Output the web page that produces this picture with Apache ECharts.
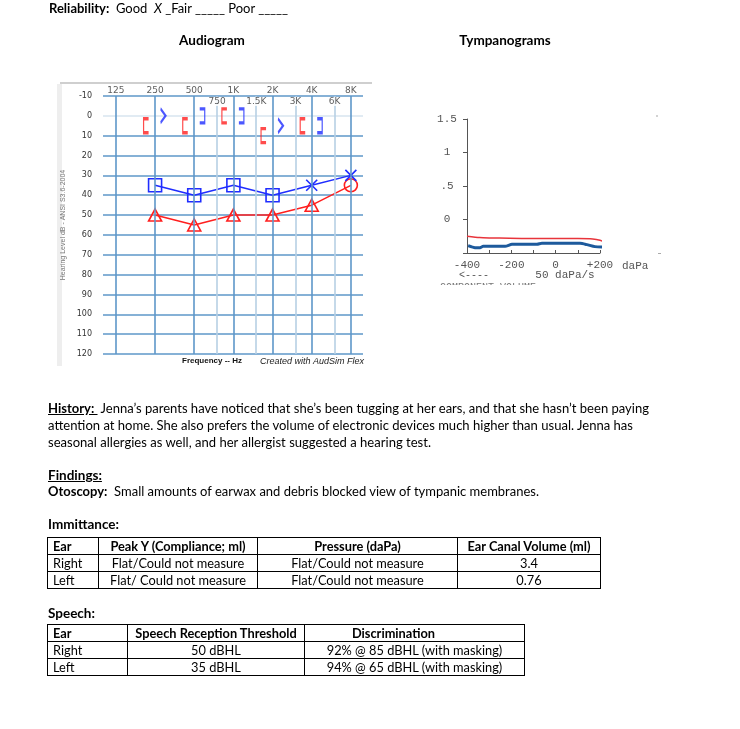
<!DOCTYPE html>
<html>
<head>
<meta charset="utf-8">
<script src="https://cdn.jsdelivr.net/npm/echarts@6/dist/echarts.min.js"></script>
<style>
  html, body { margin:0; padding:0; background:#fff; }
  #c { position:absolute; left:0; top:0; width:740px; height:729px; }
  #doc { position:absolute; left:0; top:0; width:740px; height:729px; z-index:2; pointer-events:none;
         font-family: Lato, "Open Sans", sans-serif; font-size:13.5px; color:#000; }
  .ln { position:absolute; white-space:pre; line-height:17px; transform-origin:0 50%; }
  .fit { display:inline-block; }
  table { position:absolute; border-collapse:collapse; table-layout:fixed; font-size:12.8px; }
  td { border:1px solid #000; padding:0 4px; height:16px; line-height:16px; text-align:center; white-space:nowrap; overflow:hidden; }
  td.l { text-align:left; padding-left:5px; }
  tr.h td { font-weight:bold; }
</style>
</head>
<body>
<div id="c"></div>
<div id="doc">
  <div class="ln fit" data-w="239" style="left:49px;top:0px"><b>Reliability:</b>  Good  <i>X</i> _Fair _____ Poor _____</div>
  <div class="ln" style="left:162px;top:32px;width:100px;text-align:center"><b>Audiogram</b></div>
  <div class="ln" style="left:445px;top:32px;width:120px;text-align:center"><b>Tympanograms</b></div>

  <div class="ln fit" data-w="601" style="left:48px;top:400px"><b><u>History: </u></b> Jenna’s parents have noticed that she’s been tugging at her ears, and that she hasn’t been paying</div>
  <div class="ln fit" data-w="585" style="left:48px;top:417px">attention at home. She also prefers the volume of electronic devices much higher than usual. Jenna has</div>
  <div class="ln fit" data-w="383" style="left:48px;top:434px">seasonal allergies as well, and her allergist suggested a hearing test.</div>

  <div class="ln" style="left:48px;top:467px"><b><u>Findings:</u></b></div>
  <div class="ln fit" data-w="491" style="left:48px;top:483px"><b>Otoscopy:</b>  Small amounts of earwax and debris blocked view of tympanic membranes.</div>

  <div class="ln" style="left:48px;top:516px"><b>Immittance:</b></div>
  <table id="t1" style="left:47px;top:537px;width:553px">
    <colgroup><col style="width:51px"><col style="width:159px"><col style="width:200px"><col style="width:143px"></colgroup>
  </table>

  <div class="ln" style="left:48px;top:605px"><b>Speech:</b></div>
  <table id="t2" style="left:47px;top:624px;width:477px">
    <colgroup><col style="width:80px"><col style="width:177px"><col style="width:220px"></colgroup>
  </table>
</div>

<script>
// ---------- Audiogram data ----------
const octaveFreqs = [125, 250, 500, 1000, 2000, 4000, 8000];
const octaveLabels = ['125', '250', '500', '1K', '2K', '4K', '8K'];
const midFreqs = [750, 1500, 3000, 6000];
const midLabels = ['750', '1.5K', '3K', '6K'];

const rightFreq = [250, 500, 1000, 2000, 4000, 8000];
const rightDb   = [50, 55, 50, 50, 45, 35];
const rightSym  = ['triangle', 'triangle', 'triangle', 'triangle', 'triangle', 'circle'];

const leftFreq = [250, 500, 1000, 2000, 4000, 8000];
const leftDb   = [35, 40, 35, 40, 35, 30];
const leftSym  = ['rect', 'rect', 'rect', 'rect', 'x', 'x'];

const rightBoneMaskedFreq = [250, 500, 1000, 2000, 4000];
const rightBoneMaskedDb   = [5, 5, 0, 10, 5];
const leftBoneFreq = [250, 2000];
const leftBoneDb   = [0, 5];
const leftBoneMaskedFreq = [500, 1000, 4000];
const leftBoneMaskedDb   = [0, 0, 5];

// ---------- Tympanogram data ----------
const tympRightPressure = [-400, -343, -300, -208, -100, 0, 100, 167, 200, 230, 266];
const tympRightValue    = [-0.25, -0.27, -0.275, -0.28, -0.285, -0.285, -0.285, -0.29, -0.31, -0.35, -0.38];
const tympLeftPressure  = [-395, -364, -341, -327, -228, -197, -84, -62, 110, 141, 177, 210, 267];
const tympLeftValue     = [-0.39, -0.42, -0.42, -0.40, -0.40, -0.37, -0.37, -0.355, -0.355, -0.375, -0.405, -0.41, -0.41];

// ---------- tables ----------
const immHeader = ['Ear', 'Peak Y (Compliance; ml)', 'Pressure (daPa)', 'Ear Canal Volume (ml)'];
const immRows = [
  ['Right', 'Flat/Could not measure', 'Flat/Could not measure', '3.4'],
  ['Left', 'Flat/ Could not measure', 'Flat/Could not measure', '0.76']
];
const spHeader = ['Ear', 'Speech Reception Threshold', 'Discrimination'];
const spRows = [
  ['Right', '50 dBHL', '92% @ 85 dBHL (with masking)'],
  ['Left', '35 dBHL', '94% @ 65 dBHL (with masking)']
];

function fillTable(id, header, rows, hdrPad) {
  const t = document.getElementById(id);
  const mk = (cells, cls) => {
    const tr = document.createElement('tr');
    if (cls) tr.className = cls;
    cells.forEach((c, i) => {
      const td = document.createElement('td');
      td.textContent = c;
      if (i === 0) td.className = 'l';
      if (cls && hdrPad && hdrPad[i]) td.style.paddingRight = hdrPad[i] + 'px';
      tr.appendChild(td);
    });
    t.appendChild(tr);
  };
  mk(header, 'h');
  rows.forEach(r => mk(r));
}
fillTable('t1', immHeader, immRows);
fillTable('t2', spHeader, spRows, [0, 0, 46]);

// ---------- chart ----------
const oct = f => Math.log2(f / 125);
const BLUE = '#1f2dff', RED = '#ff1f1f';
const gridBlue = '#5e97c9', gridLight = '#b7d0e4';

const ySplitColors = [];
for (let v = -10; v <= 120; v += 10) ySplitColors.push(v === 0 ? '#d7e4ef' : gridBlue);

const hollow = (c, w) => ({ color: 'rgba(0,0,0,0)', borderColor: c, borderWidth: w || 1.6 });
const xPath = 'path://M0,0L10,10M10,0L0,10';
const symMap = { triangle: 'triangle', circle: 'circle', rect: 'rect', x: xPath };
const sizeMap = { triangle: [13, 12], circle: 13, rect: 13, x: 11 };

const chart = echarts.init(document.getElementById('c'), null, { renderer: 'canvas' });
const monoFont = '"Liberation Mono", "DejaVu Sans Mono", monospace';

chart.setOption({
  backgroundColor: '#fff',
  animation: false,
  grid: [
    { left: 103, top: 96, width: 260, height: 258 },
    { left: 467, top: 119, width: 133, height: 134 }
  ],
  xAxis: [
    { gridIndex: 0, type: 'value', min: -0.33, max: 6.31, axisLine: { show: false }, axisTick: { show: false },
      axisLabel: { show: false }, splitLine: { show: false } },
    { gridIndex: 1, type: 'value', min: -400, max: 200, interval: 100,
      axisLine: { onZero: false, lineStyle: { color: '#555', width: 1 } },
      axisTick: { inside: true, length: 3, lineStyle: { color: '#555' } },
      axisLabel: { margin: 7, color: '#555', fontFamily: monoFont, fontSize: 11,
        formatter: v => (v % 200 === 0 ? (v > 0 ? '+' + v : String(v)) : '') },
      splitLine: { show: false },
      name: 'daPa', nameLocation: 'end', nameGap: 22,
      nameTextStyle: { color: '#555', fontFamily: monoFont, fontSize: 11, verticalAlign: 'top', padding: [8, 0, 0, 0] } }
  ],
  yAxis: [
    { gridIndex: 0, type: 'value', inverse: true, min: -10, max: 120, interval: 10,
      axisLine: { show: false }, axisTick: { show: false },
      axisLabel: { margin: 11, color: '#333', fontSize: 8, fontFamily: '"DejaVu Sans", sans-serif' },
      splitLine: { lineStyle: { color: ySplitColors, width: 1.5 } },
      name: 'Hearing Level dB - ANSI S3.6-2004', nameLocation: 'middle', nameGap: 36,
      nameTextStyle: { color: '#777', fontSize: 7, fontFamily: '"Liberation Sans", sans-serif' } },
    { gridIndex: 1, type: 'value', min: -0.5, max: 1.5, interval: 0.5,
      axisLine: { show: true, onZero: false, lineStyle: { color: '#555', width: 1 } },
      axisTick: { show: true, length: 4, lineStyle: { color: '#555' } },
      axisLabel: { margin: 20, align: 'center', color: '#555', fontFamily: monoFont, fontSize: 11,
        formatter: v => (v < 0 ? '' : v === 0.5 ? '.5' : String(v)) },
      splitLine: { show: false } }
  ],
  series: [
    // vertical grid lines
    { type: 'line', xAxisIndex: 0, yAxisIndex: 0, data: [], silent: true, z: 1,
      markLine: { symbol: 'none', silent: true, animation: false, label: { show: false },
        data: octaveFreqs.map(f => ({ xAxis: oct(f), lineStyle: { color: gridBlue, width: 1.6, type: 'solid' } }))
          .concat(midFreqs.map(f => ({ xAxis: oct(f), lineStyle: { color: gridLight, width: 1.6, type: 'solid' } }))) } },
    // frequency labels row 1
    { type: 'scatter', xAxisIndex: 0, yAxisIndex: 0, symbolSize: 0, silent: true, z: 6, clip: false,
      data: octaveFreqs.map((f, i) => ({ value: [oct(f), -10], name: octaveLabels[i] })),
      label: { show: true, position: 'top', distance: 1, formatter: '{b}', color: '#333', fontSize: 9,
        fontFamily: '"DejaVu Sans", sans-serif' } },
    // frequency labels row 2
    { type: 'scatter', xAxisIndex: 0, yAxisIndex: 0, symbolSize: 0, silent: true, z: 6, clip: false,
      data: midFreqs.map((f, i) => ({ value: [oct(f), -10], name: midLabels[i] })),
      label: { show: true, position: 'bottom', distance: 1, formatter: '{b}', color: '#333', fontSize: 9,
        fontFamily: '"DejaVu Sans", sans-serif', backgroundColor: '#fff', padding: [0, 1] } },
    // right ear air conduction
    { type: 'line', xAxisIndex: 0, yAxisIndex: 0, clip: false, z: 4, silent: true,
      lineStyle: { color: RED, width: 1.5 },
      data: rightFreq.map((f, i) => ({ value: [oct(f), rightDb[i]], symbol: symMap[rightSym[i]],
        symbolSize: sizeMap[rightSym[i]], itemStyle: hollow(RED) })) },
    // left ear air conduction
    { type: 'line', xAxisIndex: 0, yAxisIndex: 0, clip: false, z: 4, silent: true,
      lineStyle: { color: BLUE, width: 1.5 },
      data: leftFreq.map((f, i) => ({ value: [oct(f), leftDb[i]], symbol: symMap[leftSym[i]],
        symbolSize: sizeMap[leftSym[i]], itemStyle: hollow(BLUE) })) },
    // right masked bone '['
    { type: 'scatter', xAxisIndex: 0, yAxisIndex: 0, z: 4, silent: true,
      symbol: 'path://M4,0L0,0L0,13L4,13', symbolSize: [5, 14], symbolOffset: [-9, 0],
      itemStyle: hollow(RED, 2),
      data: rightBoneMaskedFreq.map((f, i) => [oct(f), rightBoneMaskedDb[i]]) },
    // left unmasked bone '>'
    { type: 'scatter', xAxisIndex: 0, yAxisIndex: 0, z: 4, silent: true,
      symbol: 'path://M0,0L4,6.5L0,13', symbolSize: [5, 14], symbolOffset: [8, 0],
      itemStyle: hollow(BLUE, 2),
      data: leftBoneFreq.map((f, i) => [oct(f), leftBoneDb[i]]) },
    // left masked bone ']'
    { type: 'scatter', xAxisIndex: 0, yAxisIndex: 0, z: 4, silent: true,
      symbol: 'path://M0,0L4,0L4,13L0,13', symbolSize: [5, 14], symbolOffset: [8, 0],
      itemStyle: hollow(BLUE, 2),
      data: leftBoneMaskedFreq.map((f, i) => [oct(f), leftBoneMaskedDb[i]]) },
    // tympanograms
    { type: 'line', xAxisIndex: 1, yAxisIndex: 1, clip: false, showSymbol: false, silent: true, smooth: 0.2,
      lineStyle: { color: '#e8343b', width: 1.5 },
      data: tympRightPressure.map((p, i) => [p, tympRightValue[i]]) },
    { type: 'line', xAxisIndex: 1, yAxisIndex: 1, clip: false, showSymbol: false, silent: true, smooth: 0.2,
      lineStyle: { color: '#1d5a9c', width: 3 },
      data: tympLeftPressure.map((p, i) => [p, tympLeftValue[i]]) }
  ],
  graphic: [
    { type: 'rect', shape: { x: 60, y: 82, width: 312, height: 2 }, style: { fill: '#cfcfcf' }, silent: true },
    { type: 'rect', shape: { x: 57, y: 84, width: 5, height: 282 }, style: { fill: '#eeeeee' }, silent: true },
    { type: 'text', x: 212, y: 361, silent: true,
      style: { text: 'Frequency -- Hz', font: 'bold 8px "Liberation Sans", sans-serif', fill: '#111', align: 'center', verticalAlign: 'middle' } },
    { type: 'text', x: 312, y: 361, silent: true,
      style: { text: 'Created with AudSim Flex', font: 'italic 9px "Liberation Sans", sans-serif', fill: '#222', align: 'center', verticalAlign: 'middle' } },
    { type: 'text', x: 474, y: 275, silent: true,
      style: { text: '<----', font: '10px ' + monoFont, fill: '#555', align: 'center', verticalAlign: 'middle' } },
    { type: 'text', x: 565, y: 275, silent: true,
      style: { text: '50 daPa/s', font: '11px ' + monoFont, fill: '#555', align: 'center', verticalAlign: 'middle' } },
    { type: 'text', x: 488, y: 287, silent: true, z: 1,
      style: { text: 'COMPONENT VOLUME', font: '10px ' + monoFont, fill: '#777', align: 'center', verticalAlign: 'middle' } },
    { type: 'rect', shape: { x: 420, y: 285, width: 200, height: 12 }, style: { fill: '#fff' }, silent: true, z: 2 },
    { type: 'circle', shape: { cx: 657, cy: 116, r: 0.8 }, style: { fill: '#999' }, silent: true },
    { type: 'rect', shape: { x: 658, y: 253, width: 3, height: 1 }, style: { fill: '#aaa' }, silent: true }
  ]
});

// fit text line widths to the reference
function fitLines() {
  document.querySelectorAll('.fit').forEach(el => {
    el.style.transform = 'none';
    const w = el.getBoundingClientRect().width;
    const target = +el.dataset.w;
    if (w > 0) el.style.transform = 'scaleX(' + (target / w) + ')';
  });
}
if (document.fonts && document.fonts.ready) document.fonts.ready.then(fitLines); else fitLines();
fitLines();
</script>
</body>
</html>
